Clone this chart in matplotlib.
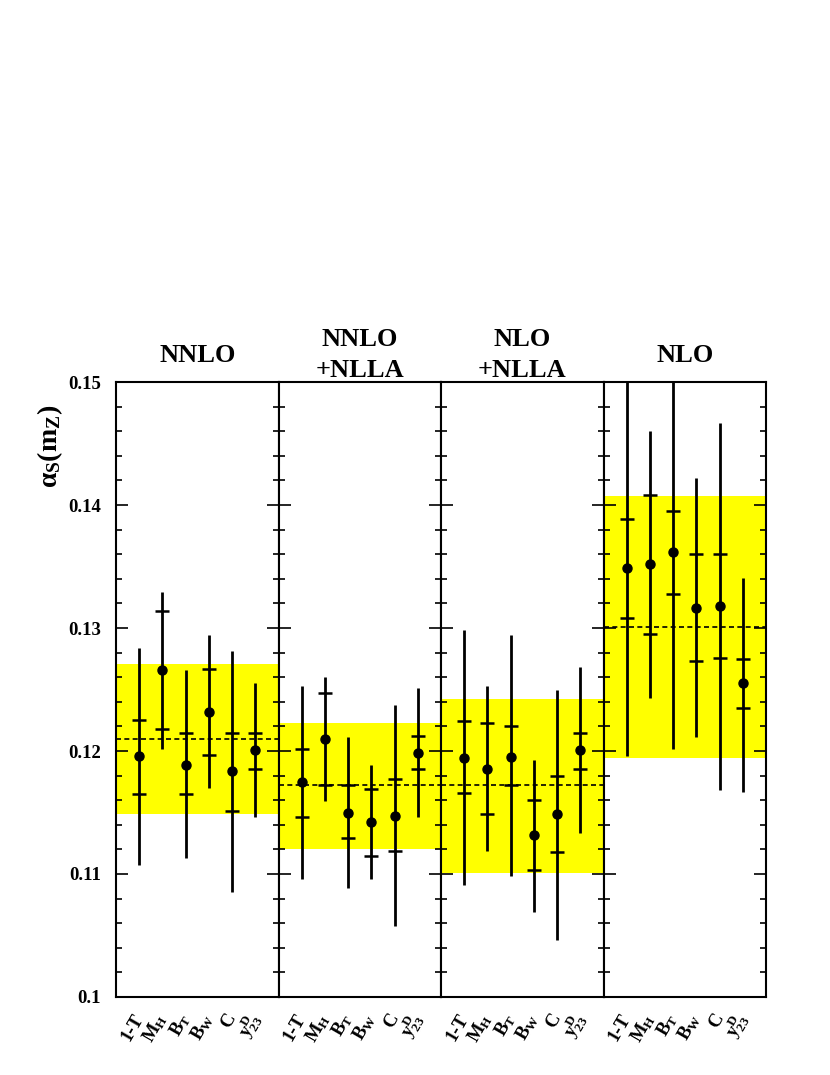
import matplotlib.pyplot as plt
import numpy as np

plt.rcParams['font.family'] = ['Liberation Serif', 'DejaVu Serif']
plt.rcParams['font.weight'] = 'bold'
plt.rcParams['mathtext.fontset'] = 'custom'
plt.rcParams['mathtext.rm'] = 'Liberation Serif:bold'
plt.rcParams['mathtext.it'] = 'Liberation Serif:bold'
plt.rcParams['mathtext.bf'] = 'Liberation Serif:bold'

panel_titles = ['NNLO', 'NNLO\n+NLLA', 'NLO\n+NLLA', 'NLO']
observables = ['1-T', r'$\mathrm{M_H}$', r'$\mathrm{B_T}$', r'$\mathrm{B_W}$', 'C', r'$\mathrm{y_{23}^{D}}$']

# central values of alpha_s for each observable, one row per panel
central = [
    [0.1196, 0.1266, 0.1189, 0.1232, 0.1184, 0.1201],
    [0.1175, 0.1210, 0.1150, 0.1142, 0.1147, 0.1198],
    [0.1194, 0.1185, 0.1195, 0.1132, 0.1149, 0.1201],
    [0.1349, 0.1352, 0.1362, 0.1316, 0.1318, 0.1255],
]
# ends of the total error bar
total_hi = [
    [0.1284, 0.1329, 0.1266, 0.1294, 0.1281, 0.1255],
    [0.1253, 0.1260, 0.1211, 0.1189, 0.1237, 0.1251],
    [0.1298, 0.1253, 0.1294, 0.1193, 0.1250, 0.1268],
    [0.1505, 0.1460, 0.1525, 0.1422, 0.1467, 0.1341],
]
total_lo = [
    [0.1107, 0.1202, 0.1113, 0.1170, 0.1085, 0.1146],
    [0.1096, 0.1159, 0.1089, 0.1096, 0.1058, 0.1146],
    [0.1091, 0.1119, 0.1098, 0.1069, 0.1046, 0.1133],
    [0.1196, 0.1243, 0.1202, 0.1211, 0.1168, 0.1167],
]
# ends of the inner error
inner_hi = [
    [0.1225, 0.1314, 0.1215, 0.1267, 0.1215, 0.1215],
    [0.1202, 0.1247, 0.1172, 0.1169, 0.1177, 0.1212],
    [0.1224, 0.1223, 0.1220, 0.1160, 0.1180, 0.1215],
    [0.1389, 0.1408, 0.1395, 0.1360, 0.1360, 0.1275],
]
inner_lo = [
    [0.1165, 0.1218, 0.1165, 0.1197, 0.1151, 0.1185],
    [0.1146, 0.1172, 0.1129, 0.1115, 0.1119, 0.1185],
    [0.1166, 0.1149, 0.1172, 0.1103, 0.1118, 0.1185],
    [0.1308, 0.1295, 0.1328, 0.1273, 0.1276, 0.1235],
]
# combined result: mean and band
combined = [0.1210, 0.1172, 0.1172, 0.1301]
band_lo = [0.1149, 0.1120, 0.1101, 0.1194]
band_hi = [0.1271, 0.1223, 0.1242, 0.1407]

W, H = 830, 1075
fig, axes = plt.subplots(1, 4, figsize=(W / 100, H / 100), dpi=100, sharey=True)
fig.subplots_adjust(left=116 / W, right=766 / W, bottom=1 - 997 / H, top=1 - 382 / H, wspace=0)

x = np.arange(1, 7)
for k, ax in enumerate(axes):
    c = np.array(central[k])
    ax.axhspan(band_lo[k], band_hi[k], color='#ffff00', lw=0, zorder=0)
    ax.axhline(combined[k], color='black', ls=(0, (3, 2)), lw=1.2, zorder=1)
    ax.errorbar(x, c, yerr=[c - np.array(total_lo[k]), np.array(total_hi[k]) - c],
                fmt='o', color='black', ms=6.5, elinewidth=2, capsize=0, zorder=3)
    ax.errorbar(x, c, yerr=[c - np.array(inner_lo[k]), np.array(inner_hi[k]) - c],
                fmt='none', ecolor='black', elinewidth=0, capsize=5, capthick=1.8, zorder=3)

    ax.set_xlim(0, 7)
    ax.set_ylim(0.1, 0.15)
    ax.set_yticks(np.arange(0.10, 0.151, 0.01))
    ax.set_yticks(np.arange(0.10, 0.151, 0.002), minor=True)
    ax.tick_params(axis='y', which='major', direction='in', left=True, right=True,
                   length=8.5, width=1.2)
    ax.tick_params(axis='y', which='minor', direction='in', left=True, right=True,
                   length=4.3, width=1.2)
    ax.set_xticks(x)
    ax.set_xticklabels(observables, rotation=60, ha='right', va='center',
                       rotation_mode='anchor', fontsize=13.5, fontweight='bold')
    ax.tick_params(axis='x', length=0, pad=13)
    for s in ax.spines.values():
        s.set_linewidth(1.5)
    ax.text(0.5, 1.0 + 27 / 615, panel_titles[k], transform=ax.transAxes,
            ha='center', va='center', fontsize=19, fontweight='bold', linespacing=1.45)

axes[0].set_yticklabels(['0.1', '0.11', '0.12', '0.13', '0.14', '0.15'],
                        fontweight='bold', fontsize=13.5)
axes[0].tick_params(axis='y', pad=11)
fig.text(50 / W, 1 - 446 / H, r'$\alpha_{S}(\mathrm{m}_{Z})$', rotation=90,
         ha='center', va='center', fontsize=20)

fig.savefig('out.png', dpi=100)
